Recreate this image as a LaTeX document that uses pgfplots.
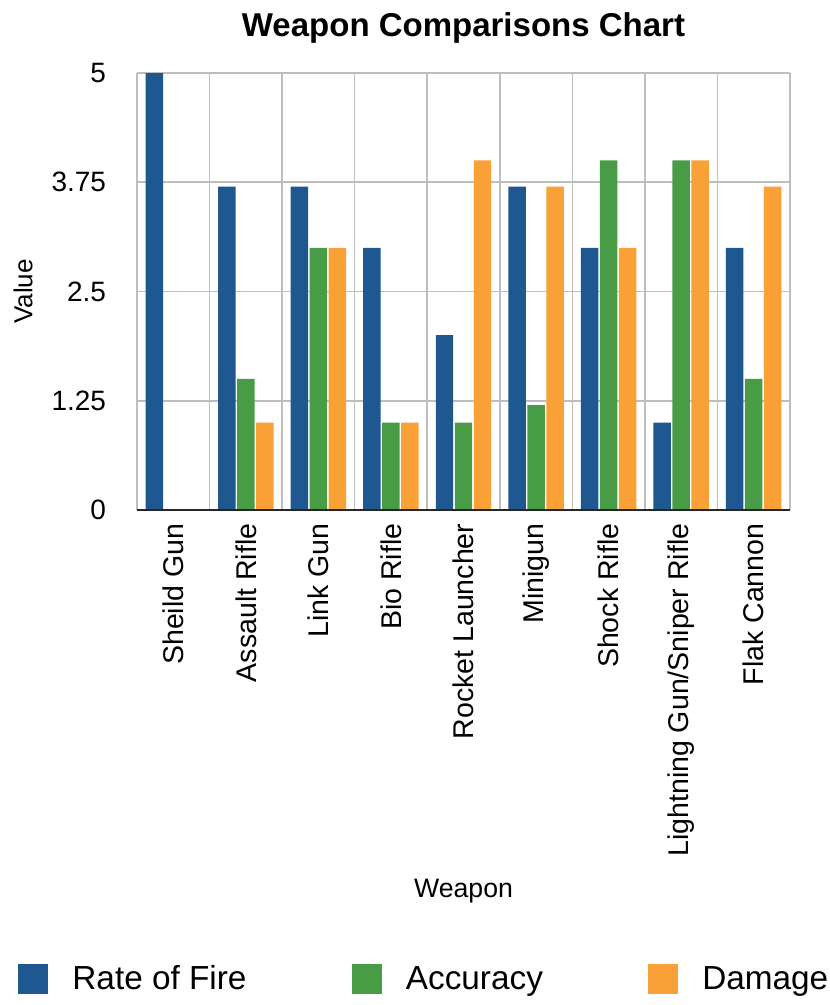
\documentclass[border=0pt]{standalone}
\usepackage{pgfplots}
\pgfplotsset{compat=1.18}
\usepackage{fontspec}
\setmainfont{Liberation Sans}
\definecolor{cblue}{RGB}{31,88,145}
\definecolor{cgreen}{RGB}{72,156,70}
\definecolor{corange}{RGB}{249,160,55}
\definecolor{cgrid}{RGB}{190,190,190}
\begin{document}
\begin{tikzpicture}
\begin{axis}[
  name=ax,
  scale only axis,
  width=489.75pt, height=327.75pt,
  xmin=-0.5, xmax=8.5, ymin=0, ymax=5,
  axis line style={draw=none},
  xtick={0,1,2,3,4,5,6,7,8},
  xticklabels={Sheild Gun,Assault Rifle,Link Gun,Bio Rifle,Rocket Launcher,Minigun,Shock Rifle,Lightning Gun/Sniper Rifle,Flak Cannon},
  minor xtick={-0.5,0.5,1.5,2.5,3.5,4.5,5.5,6.5,7.5,8.5},
  xminorgrids, ymajorgrids,
  ytick={0,1.25,2.5,3.75,5},
  yticklabels={0,1.25,2.5,3.75,5},
  major tick length=0pt, minor tick length=0pt,
  grid style={cgrid, line width=1.2pt},
  minor grid style={cgrid, line width=1.2pt},
  ticklabel style={font=\fontsize{21}{25}\selectfont},
  yticklabel style={anchor=east, inner sep=0pt, xshift=-23pt},
  xticklabel style={rotate=90, anchor=east, inner sep=0pt, xshift=-10pt, font=\fontsize{21.4}{25}\selectfont},
  xlabel={Weapon},
  ylabel={Value},
  xlabel style={font=\fontsize{20}{24}\selectfont, at={(axis description cs:0.5,-0.886)}, anchor=base},
  ylabel style={font=\fontsize{19.5}{23}\selectfont, at={(axis description cs:-0.1746,0.5)}, anchor=center},
  title={Weapon Comparisons Chart},
  title style={font=\bfseries\fontsize{24.75}{28}\selectfont, at={(axis description cs:0.5,1)}, anchor=base, yshift=21.75pt},
  ybar, bar width=13.1pt,
  legend columns=3,
  legend style={draw=none, fill=none, at={(axis description cs:0.4385,-1.073)}, anchor=center,
    font=\fontsize{25}{29}\selectfont, nodes={inner sep=0pt},
    /tikz/every odd column/.append style={column sep=18pt},
    /tikz/every even column/.append style={column sep=79pt}},
  legend image code/.code={\fill[#1] (0pt,-11.25pt) rectangle (22.5pt,11.25pt);},
]
\addplot[fill=cblue, draw=none, bar shift=-14.25pt] coordinates {(0,5) (1,3.7) (2,3.7) (3,3) (4,2) (5,3.7) (6,3) (7,1) (8,3)};
\addlegendentry{Rate of Fire}
\addplot[fill=cgreen, draw=none, bar shift=0pt] coordinates {(0,0) (1,1.5) (2,3) (3,1) (4,1) (5,1.2) (6,4) (7,4) (8,1.5)};
\addlegendentry{Accuracy}
\addplot[fill=corange, draw=none, bar shift=14.25pt] coordinates {(0,0) (1,1) (2,3) (3,1) (4,4) (5,3.7) (6,3) (7,4) (8,3.7)};
\addlegendentry{Damage}
\draw[black!85, line width=1.5pt] (axis cs:-0.5,0) -- (axis cs:8.5,0);
\coordinate (bl) at (axis description cs:0,0);
\end{axis}
\pgfresetboundingbox
\path (bl) ++(-102.75pt,-371.25pt) rectangle ++(622.5pt,753.75pt);
\end{tikzpicture}
\end{document}
